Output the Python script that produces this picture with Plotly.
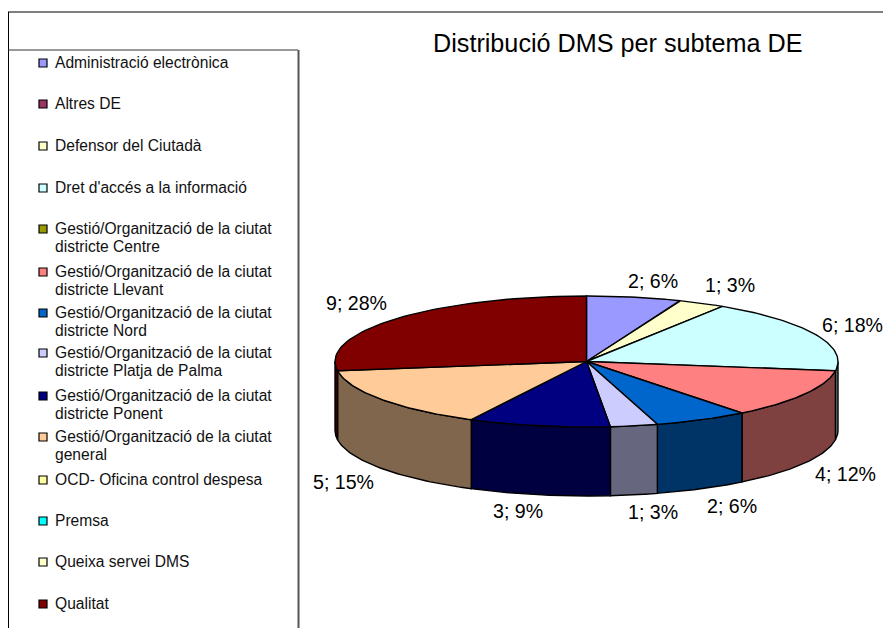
import numpy as np
import plotly.graph_objects as go

# ---- data ----
TITLE = "Distribució DMS per subtema DE"
CATEGORIES = [
    "Administració electrònica", "Altres DE", "Defensor del Ciutadà",
    "Dret d'accés a la informació",
    "Gestió/Organització de la ciutat<br>districte Centre",
    "Gestió/Organització de la ciutat<br>districte Llevant",
    "Gestió/Organització de la ciutat<br>districte Nord",
    "Gestió/Organització de la ciutat<br>districte Platja de Palma",
    "Gestió/Organització de la ciutat<br>districte Ponent",
    "Gestió/Organització de la ciutat<br>general",
    "OCD- Oficina control despesa", "Premsa", "Queixa servei DMS", "Qualitat",
]
VALUES = [2, 0, 1, 6, 0, 4, 2, 1, 3, 5, 0, 0, 0, 9]
PERCENTS = [6, 0, 3, 18, 0, 12, 6, 3, 9, 15, 0, 0, 0, 28]

# ---- styles / layout ----
COLORS = ["#9999FF", "#993366", "#FFFFCC", "#CCFFFF", "#999900", "#FF8080", "#0066CC",
          "#CCCCFF", "#000080", "#FFCC99", "#FFFF99", "#00FFFF", "#FFFFCC", "#800000"]
W, H = 883, 628
CX, CY, RX, RY, DEPTH = 586.5, 361.5, 251.5, 65.5, 69
LABEL_RX, LABEL_RY = 300, 86
LABEL_NUDGE = {0: (10, 4), 2: (6, 0), 3: (-7, -1), 5: (-1, 0), 6: (8, -1), 7: (10, -3),
               8: (-12, -4), 9: (1, 2), 13: (-3, -2)}
LEGEND_ROW_Y = [62, 103, 145, 187, 228, 271, 312, 352, 395, 436, 479, 520, 561, 603]
LEGEND_LINE_STEP = 18
FONT = "Liberation Sans, Arial, sans-serif"


def darker(hex_color):
    r, g, b = (int(hex_color[i:i + 2], 16) // 2 for i in (1, 3, 5))
    return f"rgb({r},{g},{b})"


def ex(t):
    return CX + RX * np.sin(t)


def ey(t):
    return CY - RY * np.cos(t)


fig = go.Figure()
total = sum(VALUES)
start = 0.0
annotations = []
side_traces, top_traces = [], []
for i, (name, v, p, c) in enumerate(zip(CATEGORIES, VALUES, PERCENTS, COLORS)):
    if v == 0:
        continue
    end = start + v / total * 2 * np.pi
    t = np.linspace(start, end, 60)
    label = name.replace("<br>", " ")
    top_traces.append(go.Scatter(
        x=np.r_[CX, ex(t), CX], y=np.r_[CY, ey(t), CY], mode="lines", fill="toself",
        fillcolor=c, line=dict(color="black", width=1.4), name=label, hoverinfo="name"))
    a, b = max(start, np.pi / 2), min(end, 3 * np.pi / 2)
    if b > a:
        s = np.linspace(a, b, 50)
        side_traces.append(go.Scatter(
            x=np.r_[ex(s), ex(s[::-1]), ex(s[0])],
            y=np.r_[ey(s), ey(s[::-1]) + DEPTH, ey(s[0])], mode="lines", fill="toself",
            fillcolor=darker(c), line=dict(color="black", width=1.4), name=label, hoverinfo="name"))
    mid = (start + end) / 2
    dx, dy = LABEL_NUDGE.get(i, (0, 0))
    lx = CX + LABEL_RX * np.sin(mid) + dx
    ly = CY - LABEL_RY * np.cos(mid) + (DEPTH if np.cos(mid) < 0 else 0) + dy
    annotations.append(dict(x=lx, y=ly, text=f"{v}; {p}%", showarrow=False, xref="x", yref="y",
                            xanchor="center", yanchor="middle",
                            font=dict(family=FONT, size=19.6, color="black")))
    start = end

for tr in side_traces + top_traces:
    fig.add_trace(tr)

# legend, as real text next to square markers
fig.add_trace(go.Scatter(
    x=[43] * len(CATEGORIES), y=[y + 1 for y in LEGEND_ROW_Y], mode="markers",
    marker=dict(symbol="square", size=8, color=COLORS, line=dict(color="black", width=1.2)),
    hoverinfo="skip"))
for name, y in zip(CATEGORIES, LEGEND_ROW_Y):
    for k, line in enumerate(name.split("<br>")):
        annotations.append(dict(x=53, y=y + k * LEGEND_LINE_STEP, text=line, showarrow=False,
                                xref="x", yref="y", xanchor="left", yanchor="middle", align="left",
                                font=dict(family=FONT, size=15.6, color="#111111")))

annotations.append(dict(x=618, y=43, text=TITLE, showarrow=False, xref="x", yref="y",
                        xanchor="center", yanchor="middle",
                        font=dict(family=FONT, size=25.2, color="black")))

shapes = [
    dict(type="line", x0=8, y0=12, x1=W, y1=12, line=dict(color="black", width=1)),
    dict(type="line", x0=8.5, y0=12, x1=8.5, y1=H, line=dict(color="black", width=1)),
    dict(type="line", x0=8, y0=50, x1=298, y1=50, line=dict(color="#333333", width=1)),
    dict(type="line", x0=298.5, y0=50, x1=298.5, y1=H, line=dict(color="#555555", width=2)),
]

fig.update_layout(
    width=W, height=H, margin=dict(l=0, r=0, t=0, b=0), autosize=False,
    paper_bgcolor="white", plot_bgcolor="white", showlegend=False,
    xaxis=dict(range=[0, W], visible=False, fixedrange=True),
    yaxis=dict(range=[H, 0], visible=False, fixedrange=True),
    annotations=annotations, shapes=shapes,
)
fig.write_html("out.html", config=dict(displayModeBar=False),
               post_script="document.body.style.margin='0';")
